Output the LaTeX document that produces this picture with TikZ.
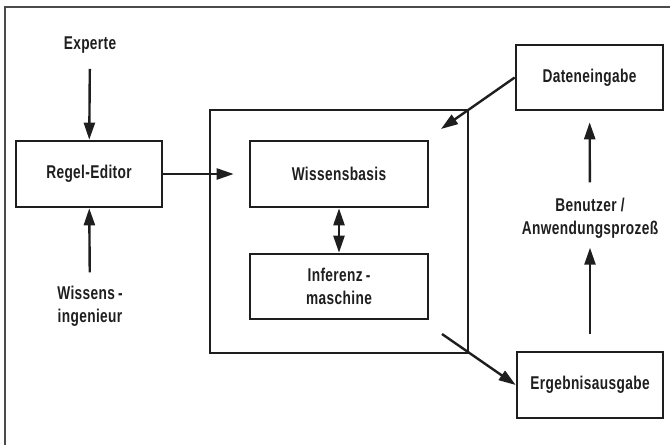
\documentclass[tikz,border=0pt]{standalone}
\usepackage{fontspec}
\setmainfont{Liberation Sans}[FakeStretch=0.74, LetterSpace=2, UprightFont=* Bold]
\usetikzlibrary{arrows.meta,positioning}
\definecolor{ink}{HTML}{1E1E1E}

\begin{document}
\begin{tikzpicture}[
    x=1pt, y=-1pt,
    every node/.style={font=\fontsize{18.5}{23}\selectfont, align=center, text=ink},
    box/.style={draw=ink, line width=2.6pt, minimum width=#1, minimum height=66pt, inner sep=0pt},
    box/.default=146pt,
    arr/.style={-{Triangle[length=17pt,width=11pt]}, line width=2.4pt, ink},
    darr/.style={{Triangle[length=17pt,width=11pt]}-{Triangle[length=17pt,width=11pt]}, line width=2.4pt, ink},
    frame/.style={draw=ink!80, line width=2pt},
  ]
  \useasboundingbox (0,0) rectangle (670,445);
  \draw[frame] (670,7) -- (5,7) -- (5,445);

  \node[box]                (regel)    at (89,174)    {Regel-Editor};
  \node                     (experte)  at (90,45)     {Experte};
  \node                     (ingen)    at (90,306)    {Wissens\,-\\ingenieur};

  \node[box, minimum width=258pt, minimum height=243pt] (kern) at (339,231.5) {};
  \node[box=178pt]          (wissen)   at (339,174)   {Wissensbasis};
  \node[box=178pt, minimum height=65pt] (inferenz) at (339,286.5) {Inferenz\,-\\maschine};

  \node[box=147pt, minimum height=65pt] (daten) at (589.5,77.5) {Dateneingabe};
  \node                     (benutzer) at (590,218)   {Benutzer /\\Anwendungsprozeß};
  \node[box]                (ergebnis) at (590,385)   {Ergebnisausgabe};

  \coordinate (kernein) at (441,129);
  \coordinate (kernaus) at (442,334);

  \draw[arr, shorten <=12pt] (experte) -- (regel);
  \draw[arr, shorten <=10pt] (ingen) -- (regel);
  \draw[arr, shorten >=15pt] (regel) -- (wissen);
  \draw[darr] (wissen) -- (inferenz);
  \draw[arr] (daten.west) -- (kernein);
  \draw[arr, shorten <=12pt, shorten >=11pt] (benutzer) -- (daten);
  \draw[arr, shorten <=17pt, shorten >=6pt] (ergebnis) -- (benutzer);
  \draw[arr] (kernaus) -- (ergebnis.west);
\end{tikzpicture}
\end{document}
